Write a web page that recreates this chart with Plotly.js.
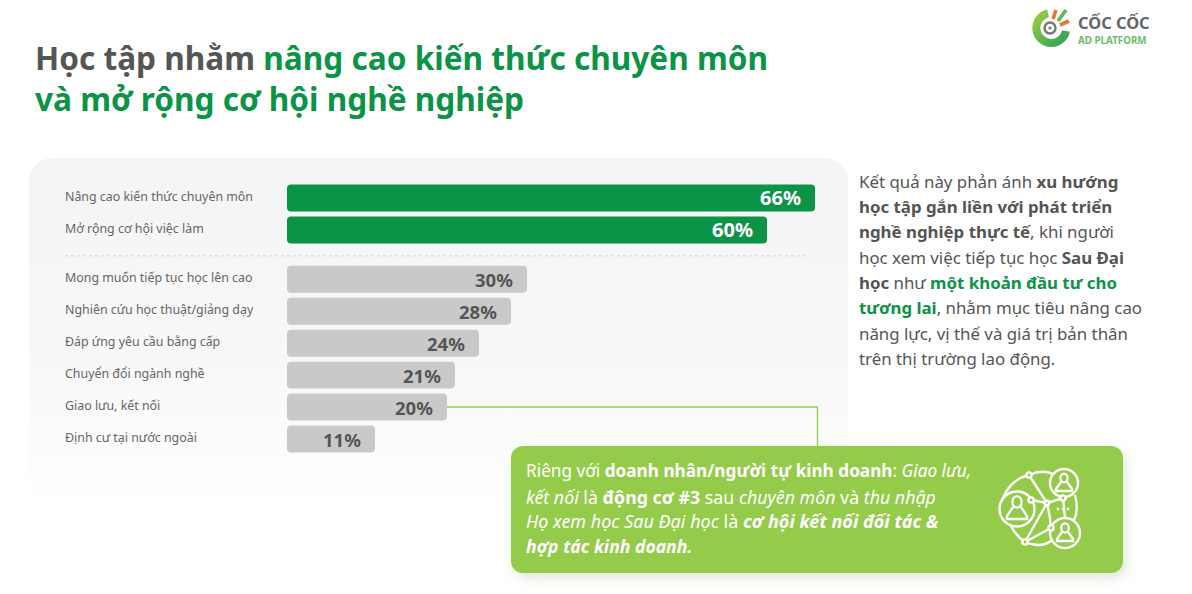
<!DOCTYPE html>
<html><head><meta charset="utf-8">
<script src="https://cdn.plot.ly/plotly-3.0.1.min.js"></script>
<style>
html,body{margin:0;padding:0;background:#fff;width:1192px;height:594px;overflow:hidden}
#deco,#chart{position:absolute;left:0;top:0;width:1192px;height:594px}
</style></head><body>
<svg id="deco" viewBox="0 0 1192 594" xmlns="http://www.w3.org/2000/svg">
<defs>
<linearGradient id="pg" x1="0" y1="0" x2="0" y2="1"><stop offset="0" stop-color="#f4f4f4"/><stop offset=".6" stop-color="#f8f8f8"/><stop offset="1" stop-color="#ffffff"/></linearGradient>
<linearGradient id="lg" x1="0" y1="0" x2="1" y2="1"><stop offset="0" stop-color="#9ccb3f"/><stop offset="1" stop-color="#2fa35a"/></linearGradient>
<filter id="sh" x="-5%" y="-15%" width="110%" height="135%"><feDropShadow dx="3" dy="5" stdDeviation="6" flood-color="#7f9f6a" flood-opacity=".25"/></filter>
</defs>
<path d="M29 510V182a24 24 0 0 1 24-24H824a24 24 0 0 1 24 24V510Z" fill="url(#pg)"/>
<path d="M447 407H817.5V447" fill="none" stroke="#95cb4c" stroke-width="1.3"/>
<rect x="511" y="446" width="612" height="127" rx="12" fill="#95cb4c" filter="url(#sh)"/>
<!-- logo -->
<path d="M1048 13.3A15 15 0 1 0 1066 31" fill="none" stroke="url(#lg)" stroke-width="8"/>
<circle cx="1050" cy="28" r="5.5" fill="#fff" stroke="#777" stroke-width="2.4"/>
<circle cx="1050" cy="28" r="1.6" fill="#777"/>
<path d="M1053 19L1056 10" stroke="#ee6f3c" stroke-width="3.6"/>
<path d="M1058 21L1066 10" stroke="#5cb85c" stroke-width="3.6"/>
<path d="M1060 25L1069 21" stroke="#ee6f3c" stroke-width="3.6"/>
<!-- network icon -->
<g fill="none" stroke="#fff" stroke-width="2.4">
<path d="M1029 475A36 36 0 0 0 1002 518M1025 542Q1042 549 1052 540M1029 475Q1042 469 1053 474M1075 495Q1079 510 1074 520M1011 526Q1016 536 1025 542"/>
<path d="M1029 475L1047 503L1031 500M1047 503L1063 498M1047 503L1025 542L1051 528M1047 503Q1050 515 1051 528M1063 498L1065 518"/>
<g fill="#95cb4c">
<circle cx="1017" cy="509" r="17.5"/><circle cx="1064" cy="483" r="14"/><circle cx="1065" cy="533" r="15"/>
<circle cx="1029" cy="475" r="2.6"/><circle cx="1031" cy="500" r="2.6"/><circle cx="1047" cy="503" r="2.2"/><circle cx="1063" cy="498" r="2.6"/><circle cx="1051" cy="528" r="2.6"/><circle cx="1025" cy="542" r="2.6"/>
</g>
<ellipse cx="1017" cy="502" rx="4.6" ry="5.6"/><path d="M1013 507L1007 516V519H1027V516L1021 507"/>
<ellipse cx="1064" cy="478" rx="3.6" ry="4.4"/><path d="M1061 482L1056 489V491H1072V489L1067 482"/>
<ellipse cx="1065" cy="528" rx="3.8" ry="4.6"/><path d="M1062 532L1057 539V541H1073V539L1068 532"/>
</g>
<g fill="#fff"><circle cx="1058" cy="509" r="1.4"/><circle cx="1063" cy="509" r="1.4"/><circle cx="1068" cy="509" r="1.4"/></g>
</svg>
<div id="chart"></div>
<script>
// Chart data
var topCategories = ["Nâng cao kiến thức chuyên môn", "Mở rộng cơ hội việc làm"];
var topValues = [66, 60];
var otherCategories = ["Mong muốn tiếp tục học lên cao", "Nghiên cứu học thuật/giảng dạy", "Đáp ứng yêu cầu bằng cấp", "Chuyển đổi ngành nghề", "Giao lưu, kết nối", "Định cư tại nước ngoài"];
var otherValues = [30, 28, 24, 21, 20, 11];
var titleLines = ["Học tập nhằm <span style='color:#0b9347'>nâng cao kiến thức chuyên môn</span>", "<span style='color:#0b9347'>và mở rộng cơ hội nghề nghiệp</span>"];
var sideLines = ["Kết quả này phản ánh <b>xu hướng</b>", "<b>học tập gắn liền với phát triển</b>", "<b>nghề nghiệp thực tế</b>, khi người", "học xem việc tiếp tục học <b>Sau Đại</b>", "<b>học</b> như <b><span style='color:#0b9347'>một khoản đầu tư cho</span></b>", "<b><span style='color:#0b9347'>tương lai</span></b>, nhằm mục tiêu nâng cao", "năng lực, vị thế và giá trị bản thân", "trên thị trường lao động."];
var calloutLines = ["Riêng với <b>doanh nhân/người tự kinh doanh</b>: <i>Giao lưu,</i>", "<i>kết nối</i> là <b>động cơ #3</b> sau <i>chuyên môn</i> và <i>thu nhập</i>", "<i>Họ xem học Sau Đại học</i> là <b><i>cơ hội kết nối đối tác &amp;</i></b>", "<b><i>hợp tác kinh doanh.</i></b>"];
var logoName = "CỐC CỐC", logoSub = "AD PLATFORM";

var FONT = '"Noto Sans", sans-serif';
var L = 287, T = 181.5, PW = 560, PH = 273.5;
function px(x){ return (x - L) / PW; }
function py(y){ return 1 - (y - T) / PH; }
function note(x, y, text, size, color, extra){
  return Object.assign({xref:'paper', yref:'paper', x:px(x), y:py(y), text:text, showarrow:false,
    xanchor:'left', yanchor:'middle', align:'left', borderpad:0, font:{family:FONT, size:size, color:color}}, extra||{});
}
var anns = [];
titleLines.forEach(function(t,i){ anns.push(note(34, [56.5,97.5][i], '<b>'+t+'</b>', 31.6, '#555555')); });
sideLines.forEach(function(t,i){ anns.push(note(858, 180.5+i*25.4, t, 16.85, '#555555')); });
calloutLines.forEach(function(t,i){ anns.push(note(525, [471,497,521.5,546][i], t, [17.2,17.8,18,17.6][i], '#ffffff')); });
anns.push(note(1077, 22, '<b>'+logoName+'</b>', 16.4, '#666666'));
anns.push(note(1077, 39.5, '<b>'+logoSub+'</b>', 9.8, '#6dbb6a'));
function rowLabels(cats, vals, axis, valueColor, labelShift, valueSize){
  cats.forEach(function(c,i){
    anns.push({xref:'paper', yref:axis, x:px(63), y:c, text:c, showarrow:false, xanchor:'left', yanchor:'middle', yshift:labelShift,
      font:{family:FONT, size:12.4, color:'#666666'}});
    anns.push({xref:'x', yref:axis, x:vals[i], y:c, text:'<b>'+vals[i]+'%</b>', showarrow:false, xanchor:'right', yanchor:'middle', xshift:-12,
      font:{family:FONT, size:valueSize, color:valueColor}});
  });
}
rowLabels(topCategories, topValues, 'y', '#ffffff', 1, 20);
rowLabels(otherCategories, otherValues, 'y2', '#555555', 2, 18.5);

var data = [
 {type:'bar', orientation:'h', y:topCategories, x:topValues, xaxis:'x', yaxis:'y', marker:{color:'#0b9347'}, hoverinfo:'x+y'},
 {type:'bar', orientation:'h', y:otherCategories, x:otherValues, xaxis:'x', yaxis:'y2', marker:{color:'#c9c9c9'}, hoverinfo:'x+y'}
];
var layout = {
  width:1192, height:594, showlegend:false,
  paper_bgcolor:'rgba(0,0,0,0)', plot_bgcolor:'rgba(0,0,0,0)',
  margin:{l:L, r:1192-L-PW, t:T, b:594-T-PH, pad:0},
  bargap:0.156, barcornerradius:4,
  xaxis:{range:[0,70], visible:false, fixedrange:true},
  yaxis:{domain:[209.5/273.5,1], type:'category', categoryorder:'array', categoryarray:topCategories, autorange:'reversed', showticklabels:false, showgrid:false, zeroline:false, ticks:'', showline:false},
  yaxis2:{domain:[0,192/273.5], type:'category', categoryorder:'array', categoryarray:otherCategories, autorange:'reversed', showticklabels:false, showgrid:false, zeroline:false, ticks:'', showline:false},
  annotations:anns,
  shapes:[{type:'line', xref:'paper', yref:'paper', x0:px(65), x1:px(807), y0:py(255.5), y1:py(255.5), line:{color:'#d4d4d4', width:1, dash:'dot'}}]
};
Plotly.newPlot('chart', data, layout, {displayModeBar:false, staticPlot:true}).then(function(gd){
  // Plotly rounds only the far end of a bar; round the near end too, keeping the drawn extent.
  gd.querySelectorAll('.bars .point path').forEach(function(p){
    var b = p.getBBox(), r = 4, x = b.x, y = b.y, w = b.width, h = b.height;
    p.setAttribute('d', 'M'+(x+r)+','+y+'H'+(x+w-r)+'A'+r+','+r+' 0 0 1 '+(x+w)+','+(y+r)+'V'+(y+h-r)+'A'+r+','+r+' 0 0 1 '+(x+w-r)+','+(y+h)+'H'+(x+r)+'A'+r+','+r+' 0 0 1 '+x+','+(y+h-r)+'V'+(y+r)+'A'+r+','+r+' 0 0 1 '+(x+r)+','+y+'Z');
  });
});
</script>
</body></html>
